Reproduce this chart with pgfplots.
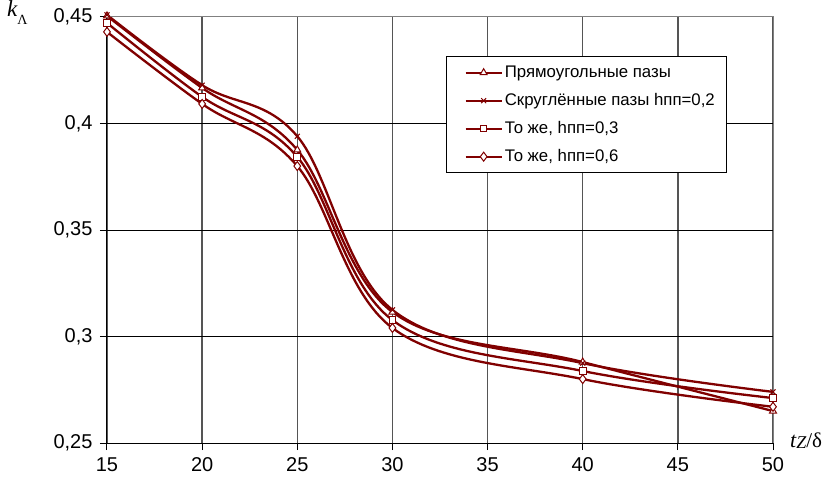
\documentclass[border=0pt]{standalone}
\usepackage{fontspec}
\setmainfont{Liberation Sans}
\newfontfamily\timesfont{Liberation Serif}
\usepackage{pgfplots}
\pgfplotsset{compat=1.18}
\definecolor{curve}{RGB}{128,0,0}
\definecolor{vgrid}{RGB}{85,85,85}
\definecolor{framegray}{RGB}{128,128,128}

\begin{document}
\begin{tikzpicture}
\useasboundingbox (-107pt,-42pt) rectangle (723pt,443pt);
\begin{axis}[
    scale only axis,
    width=666pt, height=426pt,
    xmin=15, xmax=50, ymin=0.25, ymax=0.45,
    xtick={15,20,25,30,35,40,45,50},
    ytick={0.25,0.3,0.35,0.4,0.45},
    axis lines*=left,
    axis line style={black, line width=1pt},
    tick align=outside,
    major tick length=7pt,
    tick style={black, line width=1pt},
    xmajorgrids, ymajorgrids,
    x grid style={vgrid, line width=1.4pt},
    y grid style={black, line width=1pt},
    /pgf/number format/use comma,
    /pgf/number format/assume math mode=true,
    tick label style={font=\fontsize{20}{24}\selectfont},
    yticklabel style={xshift=-4pt},
    xticklabel style={yshift=-4pt},
    clip=false,
    % axis names: k_Lambda over the y axis, t_Z/delta at the end of the x axis
    every axis y label/.style={at={(rel axis cs:0,1)}, anchor=base west, inner sep=0pt, xshift=-100pt},
    ylabel={{\timesfont\fontsize{23}{26}\selectfont\itshape k}{\timesfont\fontsize{14}{16}\selectfont\raisebox{-8pt}{Λ}}},
    every axis x label/.style={at={(rel axis cs:1,0)}, anchor=base west, inner sep=0pt, xshift=17pt, yshift=-4pt},
    xlabel={{\timesfont\fontsize{22}{24}\selectfont\itshape t}{\timesfont\fontsize{18}{20}\selectfont\itshape\raisebox{-1.5pt}{Z}}{\timesfont\fontsize{21}{24}\selectfont/δ}},
    legend style={at={(rel axis cs:0.509,0.908)}, anchor=north west,
        draw=black, line width=1pt, font=\fontsize{16.8}{20}\selectfont,
        inner xsep=10pt, inner ysep=6pt, row sep=8pt,
        nodes={inner sep=2pt, text height=12.5pt, text depth=3.5pt}},
    legend cell align=left,
    legend image code/.code={
        \path (-8pt,0pt);
        \draw[mark repeat=2,mark phase=2] plot coordinates {(0pt,0pt) (18pt,0pt) (36pt,0pt)};},
    every axis plot/.append style={curve, line width=2.3pt, smooth, tension=0.6,
        mark options={solid, fill=white, line width=1pt}},
]
\addplot[mark=triangle*, mark size=4pt] coordinates {
    (15,0.4505) (20,0.4167) (25,0.3876) (30,0.3115) (40,0.2880) (50,0.2650)
};
\addlegendentry{Прямоугольные пазы}
\addplot[mark=x, mark size=3.5pt] coordinates {
    (15,0.4510) (20,0.4180) (25,0.3940) (30,0.3125) (40,0.2875) (50,0.2740)
};
\addlegendentry{Скруглённые пазы hпп=0,2}
\addplot[mark=square*, mark size=3.3pt] coordinates {
    (15,0.4472) (20,0.4125) (25,0.3843) (30,0.3077) (40,0.2838) (50,0.2711)
};
\addlegendentry{То же, hпп=0,3}
\addplot[mark=diamond*, mark size=4.5pt] coordinates {
    (15,0.4430) (20,0.4092) (25,0.3800) (30,0.3040) (40,0.2800) (50,0.2670)
};
\addlegendentry{То же, hпп=0,6}
\draw[framegray, line width=1pt] (rel axis cs:0,1) -- (rel axis cs:1,1) -- (rel axis cs:1,0);
\end{axis}
\end{tikzpicture}
\end{document}
